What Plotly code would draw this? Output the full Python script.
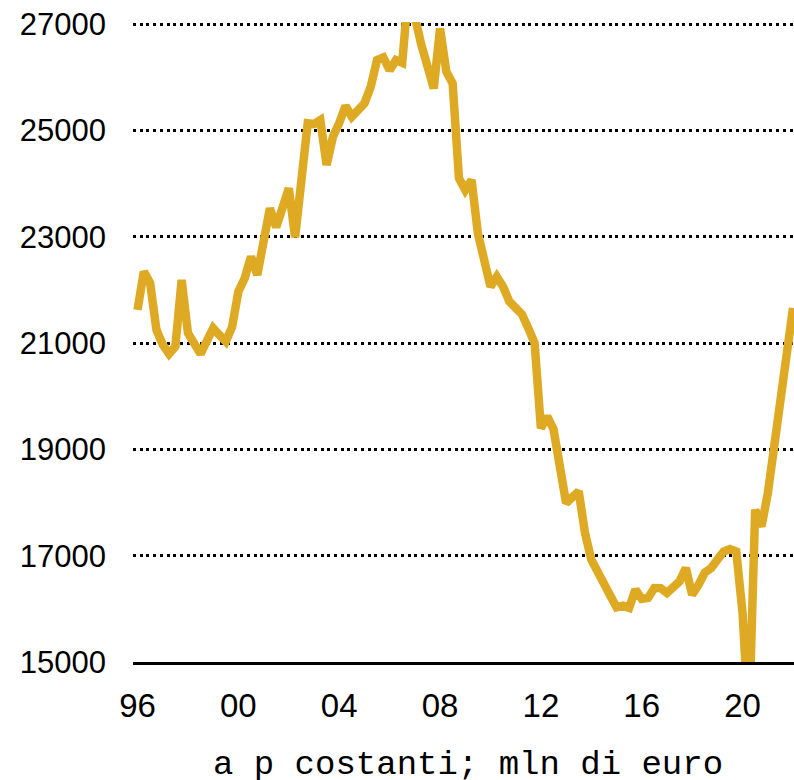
import plotly.graph_objects as go

# Quarterly values, 1996Q1 .. 2022Q1 (mln di euro, a prezzi costanti)
years = list(range(1996, 2023))
values = [
    21624, 22344, 22126, 21250,   # 1996
    20970, 20797, 20934, 22188,   # 1997
    21186, 21000, 20797, 21040,   # 1998
    21280, 21150, 21030, 21300,   # 1999
    21970, 22220, 22626, 22282,   # 2000
    22900, 23535, 23180, 23550,   # 2001
    23910, 22990, 24100, 25134,   # 2002
    25120, 25195, 24350, 24880,   # 2003
    25140, 25460, 25258, 25415,   # 2004
    25510, 25822, 26323, 26374,   # 2005
    26135, 26323, 26272, 27660,   # 2006
    27050, 26624, 26210, 25790,   # 2007
    26920, 26104, 25885, 24100,   # 2008
    23880, 24068, 23066, 22600,   # 2009
    22062, 22250, 22062, 21780,   # 2010
    21680, 21540, 21280, 21000,   # 2011
    19400, 19620, 19380, 18712,   # 2012
    17990, 18100, 18210, 17426,   # 2013
    16925, 16700, 16440, 16250,   # 2014
    16030, 16060, 16020, 16360,   # 2015
    16186, 16205, 16393, 16390,   # 2016
    16300, 16393, 16518, 16768,   # 2017
    16266, 16450, 16680, 16767,   # 2018
    16925, 17080, 17124, 17080,   # 2019
    15920, 13800, 17865, 17550,   # 2020
    18170, 19050, 19900, 20815,   # 2021
    21660,                        # 2022
]
quarters = [1996 + i / 4 for i in range(len(values))]

tick_years = [1996, 2000, 2004, 2008, 2012, 2016, 2020]
tick_labels = ["96", "00", "04", "08", "12", "16", "20"]
y_ticks = [15000, 17000, 19000, 21000, 23000, 25000, 27000]
y_tick_labels = [str(v) for v in y_ticks]
unit_note = "a p costanti; mln di euro"

fig = go.Figure()
fig.add_trace(go.Scatter(
    x=quarters, y=values, mode="lines",
    line=dict(color="#DEAA24", width=8.5),
    hoverinfo="skip", showlegend=False,
))

fig.update_layout(
    width=794, height=780,
    margin=dict(l=133, r=0, t=22, b=118),
    paper_bgcolor="white", plot_bgcolor="white",
    font=dict(family="Liberation Sans, Arial, sans-serif", color="black"),
    xaxis=dict(
        range=[1995.82, 2022.04],
        tickvals=tick_years, ticktext=tick_labels,
        tickfont=dict(size=33, color="black"),
        showgrid=False, zeroline=False,
        showline=True, linecolor="black", linewidth=3,
        ticks="", ticklabelstandoff=12,
        ticklabeloverflow="allow",
        layer="below traces",
    ),
    yaxis=dict(
        range=[15000, 27040],
        tickvals=y_ticks, ticktext=y_tick_labels,
        tickfont=dict(size=31, color="black"),
        showgrid=True, gridcolor="black", gridwidth=2.5,
        griddash="3px,3.7px",
        zeroline=False, showline=False,
        ticks="", ticklabelstandoff=26,
        ticklabeloverflow="allow",
        layer="below traces",
    ),
    annotations=[dict(
        text=unit_note, xref="paper", yref="paper",
        x=0.507, y=-0.1605, xanchor="center", yanchor="middle",
        showarrow=False,
        font=dict(family="Liberation Mono, Courier New, monospace", size=34, color="black"),
    )],
)

fig.write_html(
    "out.html",
    config={"displayModeBar": False},
    post_script="document.body.style.margin='0';document.body.style.overflow='hidden';",
)
